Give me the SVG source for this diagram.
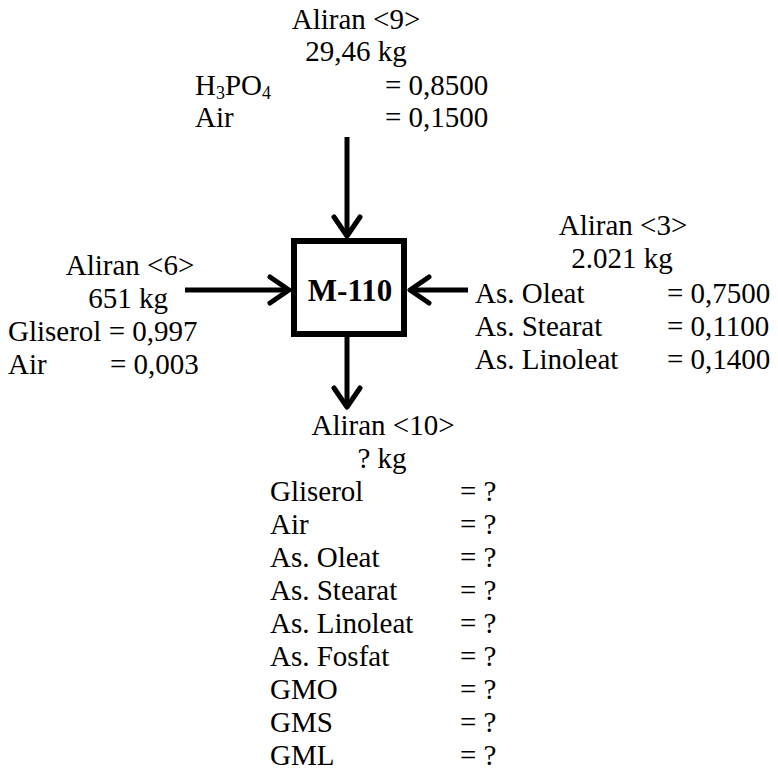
<svg xmlns="http://www.w3.org/2000/svg" width="778" height="775" viewBox="0 0 778 775">
<style>
.t{font-family:"Liberation Serif","Times New Roman",serif;font-size:29px;fill:#000}
.m{text-anchor:middle}
.b{font-weight:bold;font-size:31px}
.ln{fill:none;stroke:#000;stroke-width:5;stroke-linecap:butt}
.hd{fill:none;stroke:#000;stroke-width:5;stroke-linecap:round;stroke-linejoin:round}
</style>
<rect width="778" height="775" fill="#fff"/>
<g id="connectors">
  <line class="ln" x1="347" y1="137" x2="347" y2="236"/>
  <polyline class="hd" points="334,217 347,236 360,217"/>
  <line class="ln" x1="185" y1="290" x2="289" y2="290"/>
  <polyline class="hd" points="270,277 289,290 270,303"/>
  <line class="ln" x1="468" y1="290" x2="410" y2="290"/>
  <polyline class="hd" points="429,277 410,290 429,303"/>
  <line class="ln" x1="347" y1="337" x2="347" y2="407"/>
  <polyline class="hd" points="334,388 347,407 360,388"/>
</g>
<g id="M-110">
  <rect x="294" y="241" width="110" height="93" fill="#fff" stroke="#000" stroke-width="6"/>
  <text class="t m b" x="350" y="301">M-110</text>
</g>
<g id="stream9">
  <text class="t m" x="356" y="29">Aliran &lt;9&gt;</text>
  <text class="t m" x="356" y="61">29,46 kg</text>
  <text class="t" x="195" y="95">H<tspan font-size="18" baseline-shift="-4">3</tspan>PO<tspan font-size="18" baseline-shift="-4">4</tspan></text>
  <text class="t" x="385" y="95">= 0,8500</text>
  <text class="t" x="195" y="127">Air</text>
  <text class="t" x="385" y="127">= 0,1500</text>
</g>
<g id="stream6">
  <text class="t m" x="130" y="275">Aliran &lt;6&gt;</text>
  <text class="t m" x="128" y="308">651 kg</text>
  <text class="t" x="8" y="341">Gliserol = 0,997</text>
  <text class="t" x="8" y="374">Air</text>
  <text class="t" x="110" y="374">= 0,003</text>
</g>
<g id="stream3">
  <text class="t m" x="623" y="235">Aliran &lt;3&gt;</text>
  <text class="t m" x="622" y="268">2.021 kg</text>
  <text class="t" x="475" y="303">As. Oleat</text>
  <text class="t" x="667" y="303">= 0,7500</text>
  <text class="t" x="475" y="336">As. Stearat</text>
  <text class="t" x="667" y="336">= 0,1100</text>
  <text class="t" x="475" y="369">As. Linoleat</text>
  <text class="t" x="667" y="369">= 0,1400</text>
</g>
<g id="stream10">
  <text class="t m" x="383" y="435">Aliran &lt;10&gt;</text>
  <text class="t m" x="382" y="468">? kg</text>
  <text class="t" x="270" y="501">Gliserol</text><text class="t" x="460" y="501">= ?</text>
  <text class="t" x="270" y="534">Air</text><text class="t" x="460" y="534">= ?</text>
  <text class="t" x="270" y="567">As. Oleat</text><text class="t" x="460" y="567">= ?</text>
  <text class="t" x="270" y="600">As. Stearat</text><text class="t" x="460" y="600">= ?</text>
  <text class="t" x="270" y="633">As. Linoleat</text><text class="t" x="460" y="633">= ?</text>
  <text class="t" x="270" y="666">As. Fosfat</text><text class="t" x="460" y="666">= ?</text>
  <text class="t" x="270" y="699">GMO</text><text class="t" x="460" y="699">= ?</text>
  <text class="t" x="270" y="732">GMS</text><text class="t" x="460" y="732">= ?</text>
  <text class="t" x="270" y="765">GML</text><text class="t" x="460" y="765">= ?</text>
</g>
</svg>
